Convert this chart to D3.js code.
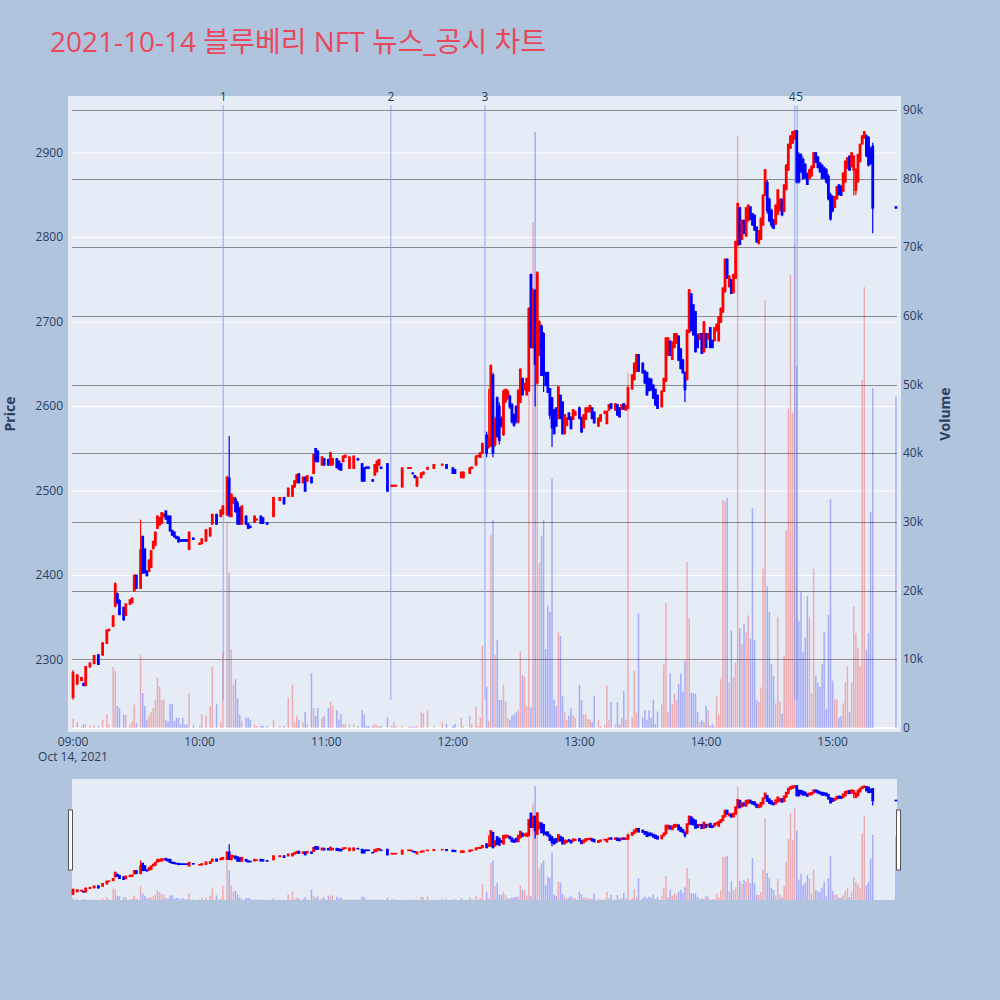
<!DOCTYPE html>
<html><head><meta charset="utf-8">
<script src="https://cdn.jsdelivr.net/npm/d3@7"></script>
<style>body{margin:0;background:#b0c4de;} svg{display:block;font-family:"Open Sans","Noto Sans CJK KR",sans-serif;}</style>
</head><body><svg id="c" width="1000" height="1000"></svg>
<script>
// minutes after 09:00 for each 1-minute candle
const minutes = [
0,2,4,5,6,8,10,12,14,16,17,19,20,21,22,24,25,27,28,29,
30,32,33,34,35,36,37,38,39,40,41,42,43,44,45,46,47,48,49,50,
51,52,53,54,55,57,60,61,63,
65,66,68,70,71,73,74,75,76,77,78,79,80,82,83,84,86,87,89,90,
92,95,98,100,102,104,105,106,107,109,110,111,113,114,115,116,118,119,121,122,
123,125,126,127,128,129,131,133,135,137,138,139,140,142,143,144,145,146,149,151,
152,153,156,159,160,161,162,163,165,166,168,171,175,177,180,181,184,185,188,189,
191,192,193,194,196,197,
198,199,200,201,202,203,204,205,206,207,208,209,210,211,212,213,214,215,216,217,
218,219,220,221,222,223,224,225,226,227,228,229,230,231,232,233,234,235,236,237,
238,240,241,242,243,244,245,246,247,249,250,252,253,254,255,257,258,259,260,261,
262,263,
265,266,267,268,270,271,272,273,274,275,276,277,279,280,281,282,283,284,285,286,
287,288,289,290,291,292,293,294,295,296,297,298,299,300,301,302,303,304,305,306,
307,308,309,310,311,312,313,314,315,316,317,318,319,320,321,322,323,324,325,326,
327,328,
329,330,331,332,333,334,335,336,337,338,339,340,341,342,343,344,345,346,347,348,
349,350,351,352,353,354,355,356,357,358,359,360,361,362,363,364,365,366,367,368,
369,370,371,372,373,374,375,376,377,378,379,390];
const opens = [
2256,2272,2276,2272,2270,2292,2296,2306,2306,2320,2335,2340,2364,2378,2370,2362,2353,2366,2368,2382,
2400,2385,2446,2431,2405,2405,2410,2432,2436,2456,2460,2462,2470,2476,2470,2470,2453,2451,2446,2445,
2442,2442,2442,2442,2431,2444,2437,2438,2441,
2447,2461,2472,2470,2473,2472,2515,2470,2486,2490,2485,2480,2461,2470,2461,2458,2463,2466,2470,2468,
2462,2470,2489,2492,2494,2494,2505,2510,2520,2510,2516,2512,2516,2521,2550,2547,2531,2538,2537,2531,
2531,2538,2535,2532,2535,2540,2527,2527,2538,2532,2527,2528,2528,2513,2519,2523,2531,2528,2532,2506,
2506,2506,2505,2527,2527,2521,2518,2506,2516,2520,2526,2527,2531,2531,2527,2525,2516,2516,2521,2527,
2531,2541,2540,2545,2566,2552,
2554,2637,2555,2610,2600,2585,2567,2606,2610,2612,2602,2590,2600,2582,2605,2633,2620,2614,2619,2756,
2670,2737,2628,2661,2695,2686,2640,2640,2621,2610,2596,2598,2586,2613,2605,2568,2578,2592,2587,2585,
2590,2598,2586,2575,2585,2594,2594,2598,2593,2577,2583,2592,2580,2596,2603,2596,2602,2598,2597,2603,
2596,2598,
2621,2632,2642,2661,2651,2642,2640,2633,2632,2625,2620,2613,2600,2618,2630,2661,2677,2656,2670,2675,
2683,2668,2655,2640,2632,2688,2733,2720,2712,2685,2680,2686,2665,2686,2680,2693,2678,2678,2690,2678,
2700,2712,2736,2774,2742,2750,2735,2752,2791,2835,2798,2820,2802,2820,2836,2828,2826,2812,2793,2798,
2815,2850,
2865,2845,2832,2820,2816,2828,2832,2845,2831,2857,2880,2906,2912,2917,2926,2898,2897,2892,2886,2875,
2870,2873,2883,2900,2895,2888,2885,2882,2880,2872,2850,2848,2836,2846,2862,2860,2855,2866,2882,2896,
2884,2880,2856,2866,2890,2911,2918,2920,2918,2905,2908,2836];
const highs = [
2288,2283,2280,2273,2293,2297,2306,2307,2321,2336,2337,2353,2392,2380,2372,2363,2367,2372,2374,2401,
2401,2466,2447,2432,2406,2419,2430,2441,2452,2471,2469,2475,2474,2477,2471,2471,2454,2452,2447,2446,
2443,2443,2443,2443,2452,2445,2439,2444,2455,
2457,2473,2473,2478,2483,2518,2565,2497,2493,2493,2488,2481,2483,2471,2462,2459,2471,2467,2471,2469,
2463,2493,2493,2493,2504,2507,2513,2520,2521,2517,2517,2519,2517,2544,2551,2548,2541,2539,2538,2546,
2539,2539,2536,2533,2542,2543,2541,2542,2539,2533,2528,2529,2529,2514,2532,2536,2538,2529,2533,2507,
2507,2507,2528,2528,2528,2522,2519,2517,2522,2523,2528,2532,2532,2532,2528,2526,2523,2523,2528,2529,
2542,2543,2546,2557,2570,2621,
2650,2640,2588,2612,2605,2588,2620,2621,2620,2614,2604,2592,2601,2620,2645,2634,2628,2634,2717,2757,
2740,2739,2760,2702,2697,2688,2641,2641,2622,2611,2597,2599,2624,2614,2606,2591,2587,2593,2588,2597,
2595,2600,2588,2591,2599,2599,2602,2599,2594,2587,2591,2595,2595,2603,2604,2604,2603,2599,2603,2604,
2602,2624,
2638,2652,2662,2662,2652,2643,2641,2634,2633,2626,2621,2614,2619,2634,2682,2682,2678,2677,2687,2687,
2684,2669,2656,2641,2691,2739,2734,2721,2713,2686,2687,2687,2701,2687,2687,2694,2679,2694,2698,2707,
2717,2741,2775,2775,2755,2751,2757,2796,2841,2836,2821,2821,2836,2839,2837,2829,2827,2813,2809,2824,
2851,2881,
2868,2847,2834,2822,2839,2857,2846,2846,2863,2887,2911,2921,2926,2927,2927,2901,2900,2895,2888,2877,
2881,2885,2901,2901,2896,2889,2887,2884,2882,2875,2853,2850,2849,2861,2863,2862,2877,2891,2895,2897,
2901,2897,2882,2899,2911,2921,2926,2922,2920,2907,2912,2837];
const lows = [
2253,2270,2275,2269,2269,2291,2295,2294,2305,2319,2334,2339,2362,2366,2353,2346,2352,2365,2367,2381,
2384,2384,2402,2402,2399,2404,2409,2431,2435,2455,2459,2461,2469,2466,2461,2452,2447,2445,2443,2439,
2440,2440,2440,2440,2430,2442,2436,2437,2440,
2446,2460,2460,2469,2472,2470,2469,2469,2485,2474,2460,2460,2460,2460,2455,2456,2462,2465,2461,2461,
2460,2469,2488,2484,2493,2493,2504,2509,2509,2509,2499,2511,2509,2520,2534,2534,2530,2530,2530,2530,
2530,2527,2525,2524,2534,2539,2526,2526,2536,2511,2511,2526,2526,2511,2518,2522,2530,2526,2499,2505,
2505,2505,2504,2526,2526,2520,2515,2505,2515,2519,2525,2526,2530,2526,2520,2520,2515,2515,2520,2526,
2530,2540,2539,2544,2540,2550,
2552,2540,2552,2563,2555,2575,2565,2604,2608,2597,2580,2576,2580,2580,2604,2613,2619,2613,2617,2669,
2668,2600,2626,2660,2636,2617,2624,2616,2585,2552,2567,2576,2585,2585,2567,2567,2577,2584,2573,2584,
2589,2585,2569,2574,2584,2593,2593,2585,2580,2576,2582,2591,2579,2595,2597,2595,2589,2587,2596,2596,
2595,2597,
2620,2631,2641,2641,2639,2627,2613,2618,2619,2609,2601,2597,2599,2617,2629,2660,2660,2655,2669,2674,
2654,2644,2639,2605,2631,2687,2689,2684,2664,2669,2679,2662,2664,2669,2679,2669,2669,2677,2689,2677,
2699,2711,2735,2751,2741,2733,2734,2751,2790,2791,2797,2804,2801,2819,2821,2814,2808,2794,2792,2797,
2814,2849,
2828,2818,2812,2810,2815,2827,2831,2825,2830,2856,2879,2905,2911,2916,2864,2864,2876,2869,2869,2862,
2869,2872,2882,2888,2882,2877,2869,2869,2864,2844,2820,2830,2835,2845,2850,2849,2854,2865,2881,2879,
2883,2850,2850,2865,2889,2910,2917,2895,2884,2886,2805,2834];
const closes = [
2285,2282,2279,2270,2292,2296,2305,2295,2320,2335,2336,2352,2390,2368,2354,2348,2366,2371,2373,2400,
2385,2430,2403,2404,2400,2418,2429,2440,2451,2470,2468,2474,2472,2467,2462,2453,2448,2446,2444,2440,
2441,2441,2441,2441,2451,2443,2438,2443,2454,
2456,2472,2461,2477,2482,2516,2472,2496,2492,2476,2461,2461,2482,2461,2456,2457,2470,2466.5,2462,2462,
2461,2492,2492,2485,2503,2506,2512,2519,2510,2516,2500,2518,2510,2543,2535,2535,2540,2531,2531,2545,
2538,2528,2526,2525,2541,2542,2540,2541,2537,2512,2512,2527,2527,2512,2531,2535,2537,2527,2500,2506.5,
2506.5,2506.5,2527,2527.5,2527.5,2520.5,2516,2516,2521,2522,2527.5,2531,2531.5,2527,2521,2521,2522,2522,2527,2528,
2541,2542,2545,2556,2545,2562,
2648,2545,2585,2565,2560,2578,2618,2620,2618,2600,2582,2578,2582,2619,2644,2614,2627,2633,2716,2670,
2737,2650,2758,2700,2637,2637,2625,2617,2590,2575,2568,2577,2623,2586,2568,2590,2586,2585,2574,2596,
2594,2586,2570,2590,2598,2598,2601,2586,2581,2586,2590,2594,2594,2602,2598,2603,2590,2588,2602,2597,
2601,2622,
2637,2651,2661,2642,2640,2628,2614,2619,2620,2610,2602,2598,2618,2633,2681,2681,2661,2676,2686,2686,
2655,2645,2640,2620,2690,2738,2690,2685,2665,2670,2686,2663,2700,2670,2686,2670,2670,2693,2697,2706,
2716,2740,2774,2752,2754,2734,2756,2795,2840,2792,2820,2805,2835,2838,2822,2815,2809,2795,2808,2822,
2850,2880,
2832,2820,2815,2811,2838,2856,2845,2827,2862,2885,2910,2920,2925,2926,2866,2866,2878,2870,2871,2863,
2880,2884,2900,2889,2883,2878,2870,2871,2866,2846,2822,2832,2848,2860,2851,2850,2876,2890,2894,2880,
2900,2896,2880,2898,2910,2920,2925,2897,2886,2888,2835,2835];
// traded volume, thousands of shares
const volumesK = [
1.3,0.9,0.3,0.6,0.5,0.3,0.4,0.3,1.2,2.0,0.5,8.9,8.3,3.2,2.9,2.0,1.9,0.5,1.0,3.4,
0.7,10.6,5.1,3.2,1.2,1.8,2.3,2.9,4.1,7.3,6.0,4.1,4.1,1.2,1.0,3.5,3.5,1.0,1.5,1.5,
0.5,1.5,0.5,0.5,5.1,0.4,0.3,2.0,1.8,
3.2,8.9,3.5,0.9,11.0,30.0,22.6,11.5,6.3,7.1,4.3,1.9,1.0,1.5,1.5,1.2,0.5,0.3,0.3,0.3,
0.3,1.2,0.3,0.3,4.4,6.3,0.8,1.8,1.2,0.8,2.3,0.5,8.0,2.9,1.8,2.9,1.5,1.8,2.9,3.8,
3.2,2.6,1.2,2.0,0.6,0.6,0.5,0.6,0.3,2.6,2.0,0.3,0.3,0.3,0.6,0.4,0.3,0.3,1.5,0.3,
0.9,0.3,0.3,0.2,0.2,0.2,0.2,0.3,2.4,2.2,2.6,0.3,0.9,0.6,0.3,0.6,1.5,0.3,1.8,0.6,
3.1,0.3,1.5,12.0,6.0,1.0,
28.1,30.3,10.6,12.8,4.1,4.1,6.3,3.8,1.5,1.2,1.8,2.0,2.3,2.6,11.2,7.7,7.4,3.2,61.0,3.0,
73.6,86.8,66.5,24.0,28.0,30.3,11.5,17.8,16.9,36.3,4.1,3.2,14.0,13.4,4.6,2.3,1.2,1.8,2.9,1.8,
1.5,6.3,4.1,2.0,2.0,1.3,1.2,0.9,4.7,1.2,0.3,0.5,6.2,1.2,3.8,0.5,3.8,0.5,1.5,5.4,
1.2,51.7,
1.5,8.3,2.3,16.7,1.5,2.6,1.2,2.6,1.5,4.1,0.6,2.4,3.5,9.3,18.2,2.3,8.0,3.5,5.0,4.1,
6.4,7.9,5.3,9.8,24.2,16.0,5.1,5.1,5.0,2.3,0.9,1.2,0.9,3.2,2.6,0.3,0.6,0.3,4.6,2.0,
7.1,33.2,33.0,33.5,6.6,14.2,7.4,9.5,86.2,14.5,12.2,15.2,14.0,16.4,13.0,32.0,12.8,4.1,3.8,5.9,
23.2,62.3,
20.6,16.9,9.3,7.6,3.6,16.2,3.9,2.1,10.5,28.8,46.5,66.0,45.9,70.5,52.7,15.6,19.8,11.1,13.2,19.2,
16.2,5.1,23.2,7.6,6.6,6.0,9.3,14.0,2.8,16.5,33.3,6.9,4.1,4.2,1.5,1.8,3.6,6.6,9.0,2.3,
6.6,17.7,13.8,11.7,9.0,50.7,64.2,11.4,13.8,31.5,49.5,48.3];

const newsLabels = ["1","2","3","4","5"];
const newsMinutes = [71.2, 150.6, 195.2, 342, 343.2];
const priceTicks = [2300,2400,2500,2600,2700,2800,2900];
const volumeTicksK = [0,10,20,30,40,50,60,70,80,90];
const volumeTickLabels = ["0","10k","20k","30k","40k","50k","60k","70k","80k","90k"];
const hourTicks = [9,10,11,12,13,14,15];
const priceRange = [2219.5, 2962.7];
const volumeRangeK = [0, 91.46];
const titleText = "2021-10-14 블루베리 NFT 뉴스_공시 차트";

const svg = d3.select("#c");
const P = {x0:72, x1:897, y0:100, y1:728};
const S = {y0:780, y1:900};
const inc = "#ff0000", dec = "#0000ff", ink = "#2a3f5f";
const base = new Date(2021, 9, 14, 9, 0, 0);
const t = m => new Date(base.getTime() + m * 60000);
const x = d3.scaleTime().domain([t(-0.5), t(390.5)]).range([P.x0, P.x1]);
const yP = d3.scaleLinear().domain(priceRange).range([P.y1, P.y0]);
const yV = d3.scaleLinear().domain(volumeRangeK).range([P.y1, P.y0]);
const yPs = d3.scaleLinear().domain(priceRange).range([S.y1, S.y0]);
const yVs = d3.scaleLinear().domain(volumeRangeK).range([S.y1, S.y0]);
const idx = d3.range(minutes.length);
const up = i => closes[i] >= opens[i];

svg.append("rect").attr("width",1000).attr("height",1000).attr("fill","#b0c4de");
svg.append("text").attr("x",50).attr("y",52).attr("font-size",28).attr("fill","#e8485c").text(titleText);

// main plot background
svg.append("rect").attr("x",P.x0-4).attr("y",P.y0-4).attr("width",P.x1-P.x0+8).attr("height",P.y1-P.y0+8).attr("fill","#e5ecf6");
const grid = svg.append("g");
grid.selectAll("line.pg").data(priceTicks).join("line")
  .attr("x1",P.x0).attr("x2",P.x1).attr("y1",d=>yP(d)).attr("y2",d=>yP(d))
  .attr("stroke","#ffffff").attr("stroke-width",1);
grid.selectAll("line.vg").data(volumeTicksK.filter(d=>d>0)).join("line")
  .attr("x1",P.x0).attr("x2",P.x1).attr("y1",d=>Math.round(yV(d))+0.5).attr("y2",d=>Math.round(yV(d))+0.5)
  .attr("stroke","#888c92").attr("stroke-width",1);
grid.append("line").attr("x1",P.x0).attr("x2",P.x1).attr("y1",yV(0)).attr("y2",yV(0)).attr("stroke","#fff").attr("stroke-width",2);

function drawSeries(g, yp, yv, withNews) {
  g.selectAll("rect.vol").data(idx).join("rect").attr("class","vol")
    .attr("x", i => x(t(minutes[i])) - 0.75).attr("width", 1.5)
    .attr("y", i => yv(volumesK[i])).attr("height", i => yv(0) - yv(volumesK[i]))
    .attr("fill", i => up(i) ? inc : dec).attr("fill-opacity", 0.27);
  if (withNews) {
    const top = yp(d3.max(highs) * 1.01), bot = yp(d3.min(lows));
    g.selectAll("line.news").data(newsMinutes).join("line").attr("class","news")
      .attr("x1", d => x(t(d))).attr("x2", d => x(t(d))).attr("y1", top).attr("y2", bot)
      .attr("stroke", "#7a95ee").attr("stroke-opacity", 0.55).attr("stroke-width", 1.5);
    g.selectAll("text.news").data(newsMinutes).join("text").attr("class","news")
      .attr("x", (d,i) => x(t(d)) + (i === 3 ? -2.5 : i === 4 ? 2.5 : 0)).attr("y", top - 4).attr("text-anchor","middle")
      .attr("font-size",12).attr("fill",ink).text((d,i)=>newsLabels[i]);
  }
  g.selectAll("line.wick").data(idx).join("line").attr("class","wick")
    .attr("x1", i => x(t(minutes[i]))).attr("x2", i => x(t(minutes[i])))
    .attr("y1", i => yp(highs[i])).attr("y2", i => yp(lows[i]))
    .attr("stroke", i => up(i) ? inc : dec).attr("stroke-width", 1.2);
  g.selectAll("rect.body").data(idx).join("rect").attr("class","body")
    .attr("x", i => x(t(minutes[i])) - 1.4).attr("width", 2.8)
    .attr("y", i => Math.min(yp(opens[i]), yp(closes[i])) - 0.75)
    .attr("height", i => Math.abs(yp(opens[i]) - yp(closes[i])) + 1.5)
    .attr("fill", i => up(i) ? inc : dec);
}
drawSeries(svg.append("g"), yP, yV, true);

// axes labels
svg.selectAll("text.pt").data(priceTicks).join("text")
  .attr("x",63).attr("y",d=>yP(d)+4).attr("text-anchor","end").attr("font-size",12).attr("fill",ink).text(d=>d);
svg.selectAll("text.vt").data(volumeTicksK).join("text")
  .attr("x",903).attr("y",d=>yV(d)+4).attr("text-anchor","start").attr("font-size",12).attr("fill",ink)
  .text((d,i)=>volumeTickLabels[i]);
const fmt = d3.timeFormat("%H:%M");
svg.selectAll("text.xt").data(hourTicks).join("text")
  .attr("x",d=>x(t((d-9)*60))).attr("y",746).attr("text-anchor","middle").attr("font-size",12).attr("fill",ink)
  .text(d=>fmt(t((d-9)*60)));
svg.append("text").attr("x",x(t(0))).attr("y",761).attr("text-anchor","middle").attr("font-size",12).attr("fill",ink)
  .text(d3.timeFormat("%b %-d, %Y")(base));
svg.append("text").attr("transform","translate(15,414) rotate(-90)").attr("text-anchor","middle")
  .attr("font-size",14).attr("font-weight","bold").attr("fill",ink).text("Price");
svg.append("text").attr("transform","translate(950,414) rotate(-90)").attr("text-anchor","middle")
  .attr("font-size",14).attr("font-weight","bold").attr("fill",ink).text("Volume");

// range slider
svg.append("rect").attr("x",P.x0).attr("y",S.y0-1).attr("width",P.x1-P.x0).attr("height",S.y1-S.y0+1).attr("fill","#e5ecf6");
drawSeries(svg.append("g"), yPs, yVs, false);
[P.x0-2, P.x1+1].forEach(hx => {
  svg.append("rect").attr("x",hx-1.5).attr("y",810).attr("width",4).attr("height",60)
    .attr("fill","#fff").attr("stroke","#555").attr("stroke-width",1);
});
</script></body></html>
